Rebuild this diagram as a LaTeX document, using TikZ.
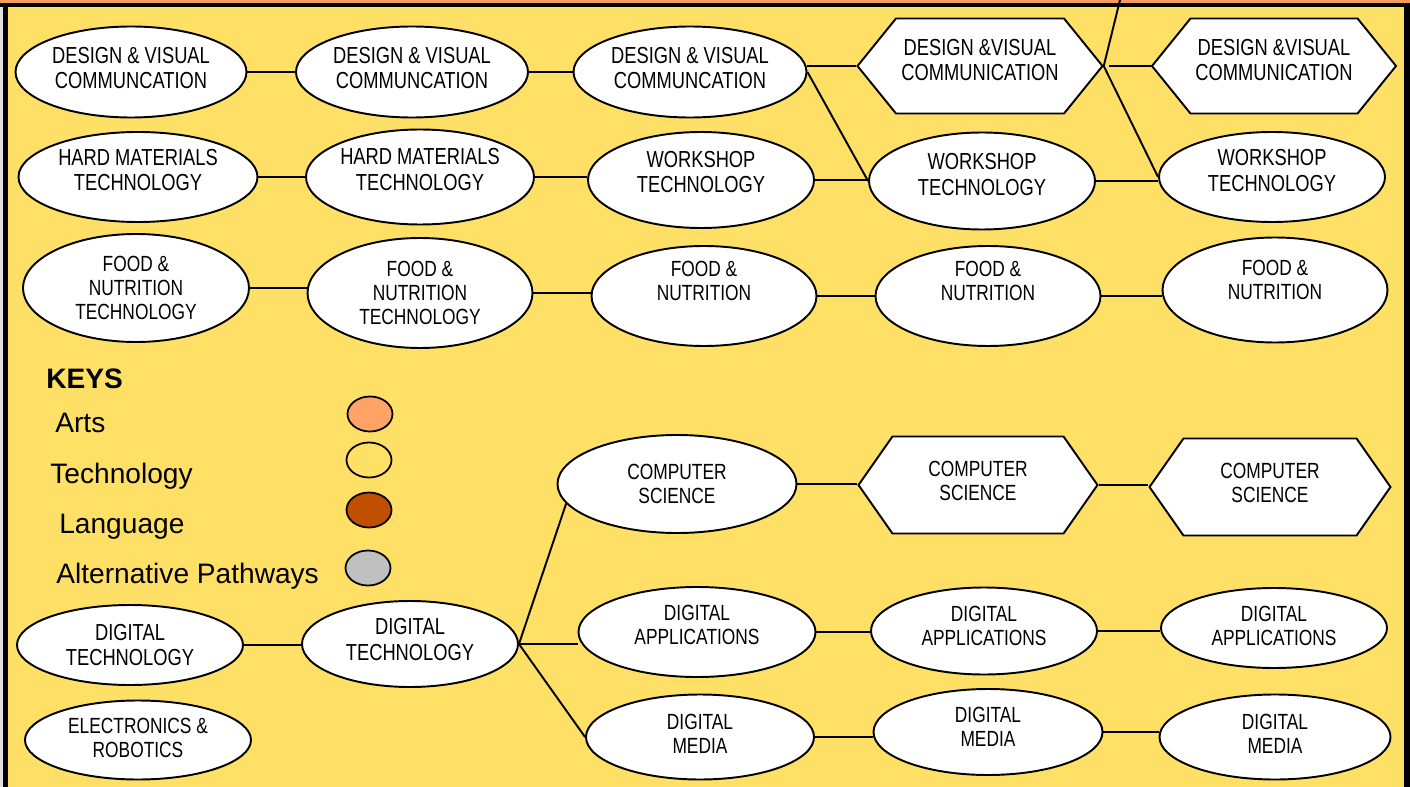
\documentclass[tikz,border=0pt]{standalone}
\usepackage{fontspec}
\setmainfont{Liberation Sans}
\newfontfamily\ovalfont{Liberation Sans}[FakeStretch=0.79]
\usepackage{tikz}
\usetikzlibrary{shapes.geometric, shapes.symbols, calc}

\definecolor{BackYellow}{RGB}{255,224,102}
\definecolor{TopOrange}{RGB}{242,155,92}
\definecolor{ArtsFill}{RGB}{255,163,102}
\definecolor{LangFill}{RGB}{192,79,0}
\definecolor{AltFill}{RGB}{192,192,192}

\providecommand{\bigtext}{\ovalfont\fontsize{13.2}{14.5}\selectfont}
\providecommand{\smalltext}{\ovalfont\fontsize{12.5}{13.6}\selectfont}
\providecommand{\lift}[1]{\rule[-#1]{0pt}{#1}} % deeper last line, text sits higher
\def\px{0.02cm}

\tikzset{
	oval/.style={ellipse, draw, fill=white, line width=1.1pt, inner sep=0pt, inner xsep=-30pt, inner ysep=-6pt, align=center, font=\bigtext},
	hexa/.style={signal, signal to=west and east, signal pointer angle=#1, draw, fill=white, line width=1.1pt, inner sep=0pt, align=center, font=\bigtext},
	dims/.style 2 args={minimum width=#1*\px, minimum height=#2*\px},
	smaller/.style={font=\smalltext},
	link/.style={line width=1.1pt},
	keyoval/.style={ellipse, draw, line width=1pt, minimum width=45*\px, minimum height=35*\px, inner sep=0pt},
	keytext/.style={anchor=base west, inner sep=0pt, font=\fontsize{16}{19}\selectfont}
}

\begin{document}
\begin{tikzpicture}[x=\px, y=-\px]
	\useasboundingbox (0,0) rectangle (1410,787);

	% frame
	\fill[BackYellow] (0,0) rectangle (1410,787);
	\fill[TopOrange] (0,0) rectangle (1410,3);
	\fill[black] (0,3) rectangle (1410,7.5);
	\fill[gray!25] (0,7.5) rectangle (3,787);
	\fill[black] (3,7.5) rectangle (8,787);
	\fill[black] (1404,3) rectangle (1410,787);

	% design & visual communication
	\node[oval, dims={231}{91}] (dvc1) at (131,72) {DESIGN \& VISUAL\\COMMUNCATION\lift{4.6pt}};
	\node[oval, dims={232}{91}] (dvc2) at (412,72) {DESIGN \& VISUAL\\COMMUNCATION\lift{4.6pt}};
	\node[oval, dims={233}{91}] (dvc3) at (690,72) {DESIGN \& VISUAL\\COMMUNCATION\lift{4.6pt}};
	\node[hexa=102, dims={245}{95}] (dvc4) at (980,66) {DESIGN \&VISUAL\\COMMUNICATION\lift{6.8pt}};
	\node[hexa=102, dims={244}{95}] (dvc5) at (1274,66) {DESIGN \&VISUAL\\COMMUNICATION\lift{6.8pt}};

	% hard materials / workshop
	\node[oval, dims={239}{90}] (hmt1) at (138,177) {HARD MATERIALS\\TECHNOLOGY\lift{8pt}};
	\node[oval, dims={228}{95}] (hmt2) at (420,177) {HARD MATERIALS\\TECHNOLOGY\lift{8.5pt}};
	\node[oval, dims={226}{96}] (wst3) at (701,180) {WORKSHOP\\TECHNOLOGY\lift{9.1pt}};
	\node[oval, dims={226}{97}] (wst4) at (982,181) {WORKSHOP\\TECHNOLOGY\lift{7.4pt}};
	\node[oval, dims={226}{90}] (wst5) at (1272,177) {WORKSHOP\\TECHNOLOGY\lift{7.4pt}};

	% food & nutrition
	\node[oval, smaller, dims={226}{108}] (fnt1) at (136,288) {FOOD \&\\NUTRITION\\TECHNOLOGY};
	\node[oval, smaller, dims={225}{110}] (fnt2) at (420,293) {FOOD \&\\NUTRITION\\TECHNOLOGY};
	\node[oval, smaller, dims={225}{100}] (fnt3) at (704,296) {FOOD \&\\NUTRITION\lift{17.1pt}};
	\node[oval, smaller, dims={225}{100}] (fnt4) at (988,296) {FOOD \&\\NUTRITION\lift{17.1pt}};
	\node[oval, smaller, dims={225}{105}] (fnt5) at (1275,290) {FOOD \&\\NUTRITION\lift{11.4pt}};

	% keys
	\node[keytext, font=\fontsize{16}{19}\selectfont\bfseries] (keys) at (46,388) {KEYS};
	\node[keytext] (karts) at (55,432) {Arts};
	\node[keytext] (ktech) at (50,483) {Technology};
	\node[keytext] (klang) at (59,533) {Language};
	\node[keytext] (kalt) at (56,583) {Alternative Pathways};
	\node[keyoval, fill=ArtsFill] (oarts) at (370,414) {};
	\node[keyoval, fill=BackYellow] (otech) at (369,460) {};
	\node[keyoval, fill=LangFill] (olang) at (369,510) {};
	\node[keyoval, fill=AltFill] (oalt) at (368,568) {};

	% computing
	\node[oval, smaller, dims={239}{98}] (csc1) at (677,484) {COMPUTER\\SCIENCE};
	\node[hexa=110, smaller, dims={239}{97}] (csc2) at (978,485) {COMPUTER\\SCIENCE\lift{4.6pt}};
	\node[hexa=110, smaller, dims={241}{97}] (csc3) at (1270,487) {COMPUTER\\SCIENCE\lift{5.1pt}};
	\node[oval, dims={226}{80}] (dgt1) at (130,645) {DIGITAL\\TECHNOLOGY};
	\node[oval, dims={216}{86}] (dgt2) at (410,644) {DIGITAL\\TECHNOLOGY\lift{5.1pt}};
	\node[oval, smaller, dims={237}{90}] (dga1) at (697,632) {DIGITAL\\APPLICATIONS\lift{8pt}};
	\node[oval, smaller, dims={226}{87}] (dga2) at (984,631) {DIGITAL\\APPLICATIONS\lift{6.3pt}};
	\node[oval, smaller, dims={226}{80}] (dga3) at (1274,628) {DIGITAL\\APPLICATIONS\lift{2.8pt}};
	\node[oval, smaller, dims={228}{85}] (dgm1) at (700,737) {DIGITAL\\MEDIA\lift{4pt}};
	\node[oval, smaller, dims={229}{86}] (dgm2) at (988,732) {DIGITAL\\MEDIA\lift{5.7pt}};
	\node[oval, smaller, dims={231}{85}] (dgm3) at (1275,737) {DIGITAL\\MEDIA\lift{4pt}};
	\node[oval, smaller, dims={226}{79}] (ero1) at (138,740) {ELECTRONICS \&\\ROBOTICS\lift{2.8pt}};

	% connectors
	\coordinate (topend) at (1120,0);
	\foreach \a/\b in {dvc1/dvc2, dvc2/dvc3, hmt1/hmt2, hmt2/wst3, wst3/wst4, wst4/wst5,
		fnt1/fnt2, fnt2/fnt3, fnt3/fnt4, fnt4/fnt5, csc1/csc2, csc2/csc3,
		dgt1/dgt2, dga1/dga2, dga2/dga3, dgm1/dgm2, dgm2/dgm3}
		\draw[link] (\a.east) -- (\a.east -| \b.west);
	\draw[link] (dvc4.west) -- (dvc4.west -| dvc3.east);
	\draw[link] (dvc3.east) -- (wst4.west);
	\draw[link] (dvc4.east) -- (topend);
	\draw[link] (dvc4.east) -- (wst5.west);
	\draw[link, shorten <=0.1cm] (dvc4.east) -- (dvc5.west);
	\draw[link] (dgt2.east) -- (csc1.190);
	\draw[link] (dgt2.east) -- (dgt2.east -| dga1.west);
	\draw[link] (dgt2.east) -- (dgm1.west);
\end{tikzpicture}
\end{document}
